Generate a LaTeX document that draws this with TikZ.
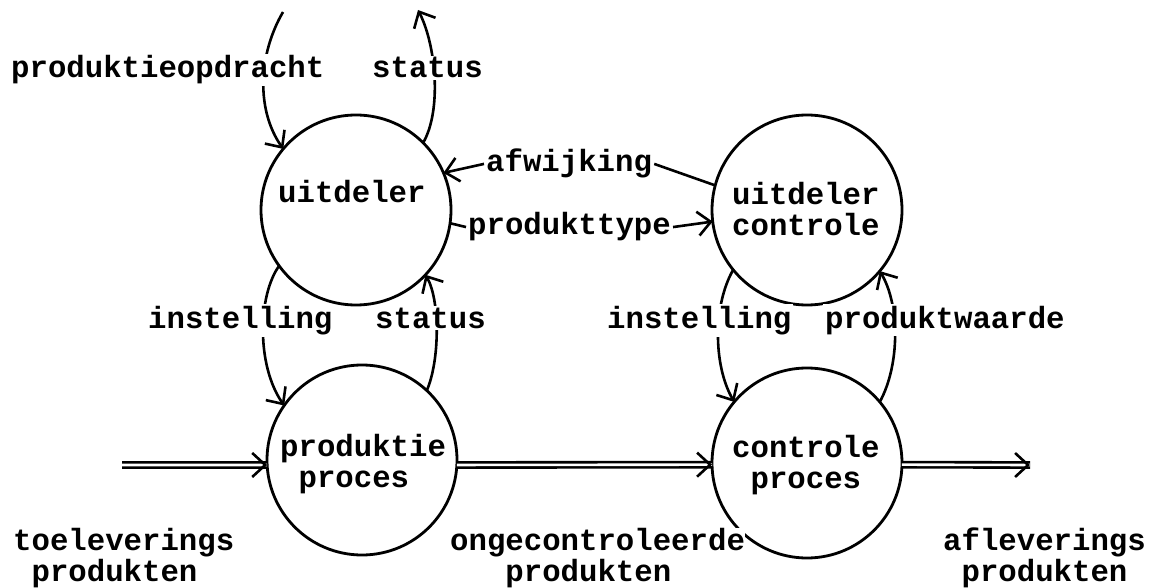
\documentclass[tikz,border=0pt]{standalone}
\usepackage{fontspec}
\newfontfamily\dmfont{Liberation Mono}
\usetikzlibrary{arrows.meta}
\begin{document}
\begin{tikzpicture}[x=1pt,y=-1pt,
  every node/.style={font=\dmfont\bfseries\fontsize{30.7}{31}\selectfont},
  bubble/.style={circle,draw,line width=2.8pt,minimum size=190pt,inner sep=0pt,outer sep=0pt},
  flow/.style={line width=2.6pt},
  arr/.style={flow,-{Straight Barb[length=13pt,width=24pt]}},
  lbl/.style={fill=white,inner xsep=2pt,inner ysep=2pt,anchor=base west},
  txt/.style={inner sep=0pt,anchor=base west,align=left},
  dbl/.style={double,double distance=2.6pt,line width=2.6pt},
]
\useasboundingbox (0,0) rectangle (1154,588);
% process bubbles
\node[bubble] (u)  at (356,210) {};
\node[bubble] (uc) at (807,210) {};
\node[bubble] (p)  at (362,460) {};
\node[bubble] (cp) at (807,463) {};
\node[txt] (ut)  at (278,203) {uitdeler};
\node[txt] (uct) at (732,236) {uitdeler\\controle};
\node[txt] (pt)  at (280,487) {produktie\\\phantom{x}proces};
\node[txt] (cpt) at (732,488) {controle\\\phantom{x}proces};
% free ends
\coordinate (pin)  at (283,12);
\coordinate (sout) at (418,10);
\coordinate (din)  at (122,465);
\coordinate (dout) at (1030,465);
% curved flows
\draw[arr] (pin) .. controls (258,55) and (256,110) .. (u.140);
\draw[arr] (u.45) .. controls (442,110) and (436,45) .. (sout);
\draw[arr] (u.216) .. controls (258,295) and (256,365) .. (p.145);
\draw[arr] (p.47) .. controls (440,360) and (440,300) .. (u.317);
\draw[arr] (uc.219) .. controls (713,305) and (713,365) .. (cp.140);
\draw[arr] (cp.40) .. controls (900,365) and (900,305) .. (uc.320);
% flow labels
\node[lbl] (po)  at (9,78)    {produktieopdracht};
\node[lbl] (st1) at (370,78)  {status};
\node[lbl] (in1) at (146,328) {instelling};
\node[lbl] (st2) at (373,328) {status};
\node[lbl] (in2) at (605,328) {instelling};
\node[lbl] (pw)  at (823,328) {produktwaarde};
\node[lbl] (afw) at (484,172) {afwijking};
\node[lbl] (ptt) at (466,235) {produkttype};
% straight flows
\draw[flow] (uc.165) -- (afw.east);
\draw[arr] (afw.west) -- (u.23);
\draw[flow] (u.352) -- (ptt.west);
\draw[arr] (ptt.east) -- (uc.187);
% material flows
\draw[dbl] (din) -- (p.183);
\draw[arr] (p.183) ++(-2,0) -- (p.183);
\draw[dbl] (p.357) -- (cp.181);
\draw[arr] (cp.181) ++(-2,0) -- (cp.181);
\draw[dbl] (cp.359) -- (dout);
\draw[arr] (dout) ++(-2,0) -- (dout);
% material labels
\node[txt,fill=white] (tl) at (13,581)  {toeleverings\\\phantom{x}produkten};
\node[txt,fill=white] (ol) at (450,581) {ongecontroleerde\\\phantom{xxx}produkten};
\node[txt] (al) at (943,581) {afleverings\\\phantom{x}produkten};
\end{tikzpicture}
\end{document}
